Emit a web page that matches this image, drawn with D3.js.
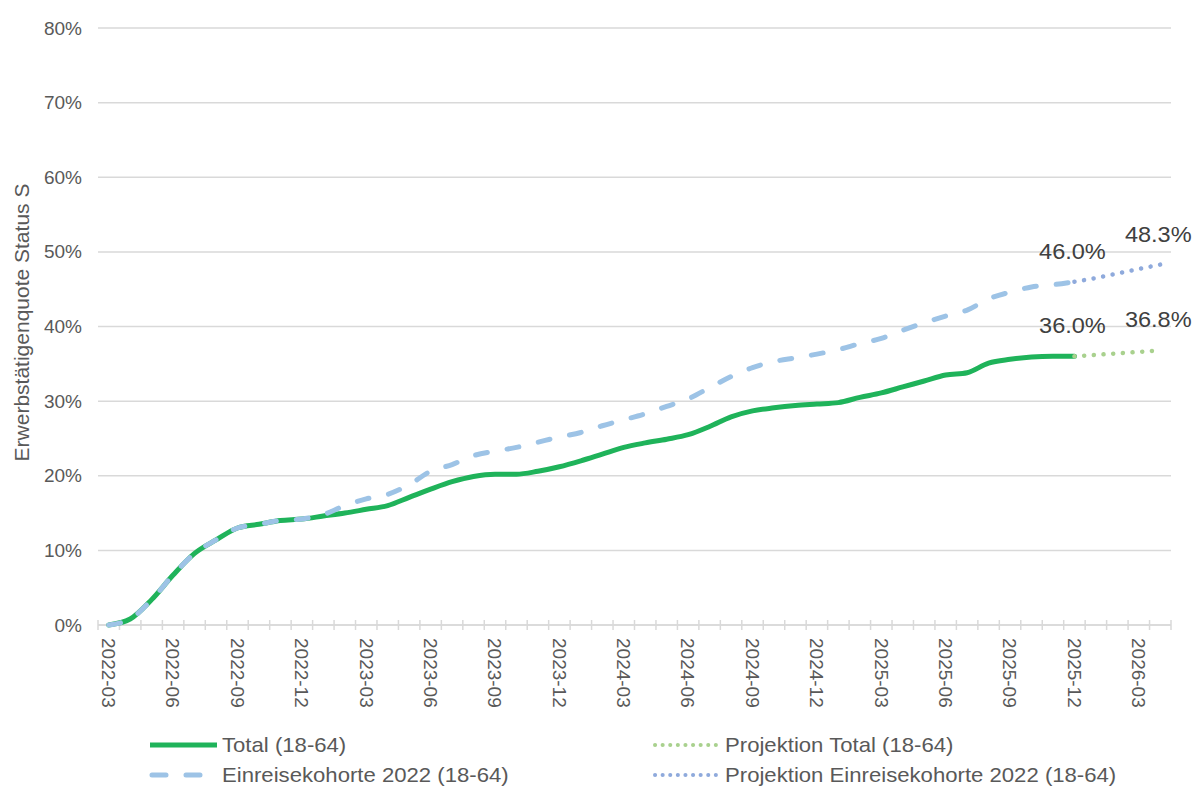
<!DOCTYPE html>
<html>
<head>
<meta charset="utf-8">
<script src="https://cdn.jsdelivr.net/npm/d3@7"></script>
<style>
  html, body { margin: 0; padding: 0; background: #fff; }
  svg text { font-family: "Liberation Sans", Arial, sans-serif; }
</style>
</head>
<body>
<svg id="chart" width="1195" height="791"></svg>
<script>
// ---------- DATA ----------
const categories = [
  "2022-03","2022-04","2022-05","2022-06","2022-07","2022-08","2022-09","2022-10","2022-11","2022-12",
  "2023-01","2023-02","2023-03","2023-04","2023-05","2023-06","2023-07","2023-08","2023-09","2023-10",
  "2023-11","2023-12","2024-01","2024-02","2024-03","2024-04","2024-05","2024-06","2024-07","2024-08",
  "2024-09","2024-10","2024-11","2024-12","2025-01","2025-02","2025-03","2025-04","2025-05","2025-06",
  "2025-07","2025-08","2025-09","2025-10","2025-11","2025-12","2026-01","2026-02","2026-03","2026-04"
];
const tickLabels = ["2022-03","2022-06","2022-09","2022-12","2023-03","2023-06","2023-09","2023-12",
  "2024-03","2024-06","2024-09","2024-12","2025-03","2025-06","2025-09","2025-12","2026-03"];
const yTicks = [0, 10, 20, 30, 40, 50, 60, 70, 80];

// Total (18-64), 2022-03 .. 2025-12
const totalValues = [
  0.0, 0.8, 3.4, 6.7, 9.6, 11.4, 13.0, 13.5, 14.0, 14.2,
  14.6, 15.0, 15.5, 16.0, 17.1, 18.2, 19.2, 19.9, 20.2, 20.2,
  20.6, 21.2, 22.0, 22.9, 23.8, 24.4, 24.9, 25.5, 26.6, 27.9,
  28.7, 29.1, 29.4, 29.6, 29.8, 30.5, 31.1, 31.9, 32.7, 33.5,
  33.8, 35.1, 35.6, 35.9, 36.0, 36.0
];
// Einreisekohorte 2022 (18-64), 2022-03 .. 2025-12
const cohortValues = [
  0.0, 0.8, 3.4, 6.7, 9.6, 11.4, 13.0, 13.5, 14.0, 14.2,
  14.8, 16.0, 16.9, 17.5, 18.8, 20.6, 21.5, 22.7, 23.3, 23.8,
  24.5, 25.2, 25.8, 26.7, 27.5, 28.3, 29.3, 30.3, 31.8, 33.3,
  34.5, 35.3, 35.8, 36.3, 36.9, 37.7, 38.4, 39.5, 40.5, 41.4,
  42.2, 43.7, 44.6, 45.3, 45.6, 46.0
];
// Projections, 2025-12 .. 2026-04
const projCategories = ["2025-12","2026-01","2026-02","2026-03","2026-04"];
const projTotalValues = [36.0, 36.2, 36.4, 36.6, 36.8];
const projCohortValues = [46.0, 46.5, 47.1, 47.7, 48.3];

const seriesNames = ["Total (18-64)", "Projektion Total (18-64)",
  "Einreisekohorte 2022 (18-64)", "Projektion Einreisekohorte 2022 (18-64)"];

// ---------- LAYOUT ----------
const svg = d3.select("#chart");
const plotLeft = 98, plotRight = 1171, plotTop = 28, plotBottom = 625;

const x = d3.scaleBand().domain(categories).range([plotLeft, plotRight]).paddingInner(0).paddingOuter(0);
const cx = d => x(d) + x.bandwidth() / 2;
const y = d3.scaleLinear().domain([0, 80]).range([plotBottom, plotTop]);

const C = {
  total: "#1fb35a",
  projTotal: "#a9d18e",
  cohort: "#9dc3e6",
  projCohort: "#8faadc",
  grid: "#d9d9d9",
  text: "#595959",
  label: "#404040"
};

// grid lines
svg.append("g").selectAll("line").data(yTicks).join("line")
  .attr("x1", plotLeft).attr("x2", plotRight)
  .attr("y1", d => y(d)).attr("y2", d => y(d))
  .attr("stroke", C.grid).attr("stroke-width", 1.5);

// y axis labels
const yAxis = d3.axisLeft(y).tickValues(yTicks).tickFormat(d => d + "%").tickSize(0).tickPadding(0);
const yg = svg.append("g").attr("transform", `translate(${plotLeft - 16},0)`).call(yAxis);
yg.select(".domain").remove();
yg.selectAll("text").attr("font-size", 19).attr("fill", C.text)
  .attr("font-family", "'Liberation Sans', Arial, sans-serif");

// y title
svg.append("text")
  .attr("transform", `translate(29,${(plotTop + plotBottom) / 2 - 4}) rotate(-90)`)
  .attr("text-anchor", "middle")
  .attr("font-size", 21).attr("fill", C.text)
  .text("Erwerbstätigenquote Status S");

// x axis: line + cross ticks at category boundaries
svg.append("line").attr("x1", plotLeft).attr("x2", plotRight).attr("y1", plotBottom).attr("y2", plotBottom)
  .attr("stroke", C.grid).attr("stroke-width", 1.5);
const boundaries = categories.map(c => x(c)).concat([plotRight]);
svg.append("g").selectAll("line").data(boundaries).join("line")
  .attr("x1", d => d).attr("x2", d => d)
  .attr("y1", plotBottom - 5).attr("y2", plotBottom + 5)
  .attr("stroke", C.grid).attr("stroke-width", 1.5);

// x tick labels (rotated, reading top to bottom)
svg.append("g").selectAll("text").data(tickLabels).join("text")
  .attr("transform", d => `translate(${cx(d)},${plotBottom + 13}) rotate(90)`)
  .attr("dy", "0.35em")
  .attr("text-anchor", "start")
  .attr("font-size", 19).attr("fill", C.text)
  .text(d => d);

// lines
const line = d3.line().x(d => cx(d.c)).y(d => y(d.v)).curve(d3.curveMonotoneX);
const totalData = totalValues.map((v, i) => ({ c: categories[i], v }));
const cohortData = cohortValues.map((v, i) => ({ c: categories[i], v }));
const projTotalData = projTotalValues.map((v, i) => ({ c: projCategories[i], v }));
const projCohortData = projCohortValues.map((v, i) => ({ c: projCategories[i], v }));

svg.append("path").datum(totalData).attr("d", line)
  .attr("fill", "none").attr("stroke", C.total).attr("stroke-width", 5)
  .attr("stroke-linejoin", "round").attr("stroke-linecap", "round");
svg.append("path").datum(projTotalData).attr("d", line)
  .attr("fill", "none").attr("stroke", C.projTotal).attr("stroke-width", 4.5)
  .attr("stroke-dasharray", "0.1,9.6").attr("stroke-linecap", "round");
svg.append("path").datum(cohortData).attr("d", line)
  .attr("fill", "none").attr("stroke", C.cohort).attr("stroke-width", 5)
  .attr("stroke-dasharray", "12,20").attr("stroke-linecap", "round");
svg.append("path").datum(projCohortData).attr("d", line)
  .attr("fill", "none").attr("stroke", C.projCohort).attr("stroke-width", 4.5)
  .attr("stroke-dasharray", "0.1,9.6").attr("stroke-linecap", "round");

// data labels
const labels = [
  { c: categories[totalValues.length - 1], v: totalValues[totalValues.length - 1] },
  { c: categories[cohortValues.length - 1], v: cohortValues[cohortValues.length - 1] },
  { c: projCategories[projCategories.length - 1], v: projTotalValues[projTotalValues.length - 1] },
  { c: projCategories[projCategories.length - 1], v: projCohortValues[projCohortValues.length - 1] }
];
svg.append("g").selectAll("text").data(labels).join("text")
  .attr("transform", d => `translate(${cx(d.c) - 2},${y(d.v) - 23}) scale(1.07,1)`)
  .attr("text-anchor", "middle")
  .attr("font-size", 22).attr("fill", C.label)
  .text(d => d.v.toFixed(1) + "%");

// legend
const legend = [
  { name: seriesNames[0], col: 0, row: 0, color: C.total, w: 5, dash: null, x1: 150, x2: 217 },
  { name: seriesNames[1], col: 1, row: 0, color: C.projTotal, w: 4, dash: "0.1,7.5", x1: 655, x2: 717 },
  { name: seriesNames[2], col: 0, row: 1, color: C.cohort, w: 5, dash: "14,20", x1: 152, x2: 205 },
  { name: seriesNames[3], col: 1, row: 1, color: C.projCohort, w: 4, dash: "0.1,7.5", x1: 655, x2: 717 }
];
const legY = [745, 775];
const legTextX = [222, 725];
const lg = svg.append("g");
legend.forEach(d => {
  lg.append("line").attr("x1", d.x1).attr("x2", d.x2)
    .attr("y1", legY[d.row]).attr("y2", legY[d.row])
    .attr("stroke", d.color).attr("stroke-width", d.w)
    .attr("stroke-linecap", d.dash ? "round" : "butt")
    .attr("stroke-dasharray", d.dash);
  lg.append("text")
    .attr("transform", `translate(${legTextX[d.col]},${legY[d.row]}) scale(1.08,1)`)
    .attr("dy", "0.35em").attr("font-size", 20.5).attr("fill", C.text)
    .text(d.name);
});
</script>
</body>
</html>
